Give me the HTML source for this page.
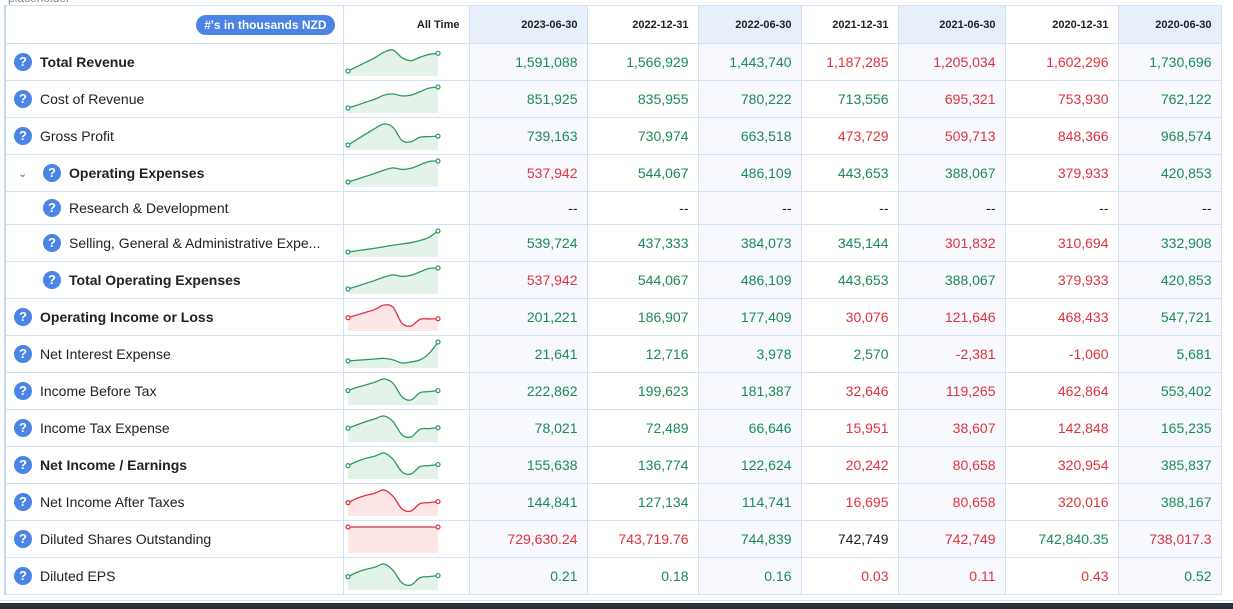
<!DOCTYPE html>
<html><head><meta charset="utf-8">
<style>
html,body{margin:0;padding:0;background:#fff;width:1233px;height:609px;overflow:hidden;font-family:"Liberation Sans",sans-serif;}
#ph{position:absolute;left:8px;top:-9px;font-size:12px;color:#888;}
table{position:absolute;left:4px;top:5px;border-collapse:collapse;table-layout:fixed;border-left:2px solid #c9d8f2;}
td{border:1px solid #d3e0f5;padding:0;font-size:14px;color:#222;white-space:nowrap;overflow:hidden;}
tr{height:37px;}
tr.h{height:38px;}
tr.s{height:33px;}
td.n{text-align:right;padding-right:9px;}
td.sh{background:#f7f9ff;}
tr.h td{font-size:11px;font-weight:bold;text-align:right;padding-right:9px;}
tr.h td.sh{background:#e7effb;}
.g{color:#1b8a57;} .r{color:#e0313c;}
.lab{display:flex;align-items:center;}
.q{width:18px;height:18px;border-radius:50%;background:#4a84e6;color:#fff;font-weight:bold;font-size:13px;text-align:center;line-height:18px;margin-left:8px;margin-right:8px;flex:none;}
.ind .q{margin-left:37px;}
.chev{position:absolute;margin-left:12px;color:#666;font-size:11px;}
.b{font-weight:bold;}
.pill{display:inline-block;background:#4a84e6;color:#fff;font-size:12px;font-weight:bold;border-radius:11px;padding:3px 8px;}
svg{display:block;}
#bar{position:absolute;left:0;top:603px;width:1233px;height:6px;background:#2b3138;}
#ln{position:absolute;left:0;top:600px;width:1233px;height:1px;background:#d3e0f5;}
</style></head><body>
<div id="ph">placeholder</div>
<table>
<colgroup><col style="width:338px"><col style="width:125px"><col style="width:118px"><col style="width:111px"><col style="width:103px"><col style="width:97px"><col style="width:107px"><col style="width:113px"><col style="width:103px"></colgroup>
<tr class="h"><td style="padding-right:8px"><span class="pill">#'s in thousands NZD</span></td><td>All Time</td><td class="sh">2023-06-30</td><td>2022-12-31</td><td class="sh">2022-06-30</td><td>2021-12-31</td><td class="sh">2021-06-30</td><td>2020-12-31</td><td class="sh">2020-06-30</td></tr>

<tr><td><div class="lab"><span class="q">?</span><span class="b">Total Revenue</span></div></td><td><svg class="sp" data-k="rev" data-c="g" width="125" height="36"></svg></td><td class="n sh g">1,591,088</td><td class="n g">1,566,929</td><td class="n sh g">1,443,740</td><td class="n r">1,187,285</td><td class="n sh r">1,205,034</td><td class="n r">1,602,296</td><td class="n sh g">1,730,696</td></tr>

<tr><td><div class="lab"><span class="q">?</span><span>Cost of Revenue</span></div></td><td><svg class="sp" data-k="cost" data-c="g" width="125" height="36"></svg></td><td class="n sh g">851,925</td><td class="n g">835,955</td><td class="n sh g">780,222</td><td class="n g">713,556</td><td class="n sh r">695,321</td><td class="n r">753,930</td><td class="n sh g">762,122</td></tr>

<tr><td><div class="lab"><span class="q">?</span><span>Gross Profit</span></div></td><td><svg class="sp" data-k="gross" data-c="g" width="125" height="36"></svg></td><td class="n sh g">739,163</td><td class="n g">730,974</td><td class="n sh g">663,518</td><td class="n r">473,729</td><td class="n sh r">509,713</td><td class="n r">848,366</td><td class="n sh g">968,574</td></tr>

<tr><td class="ind"><div class="lab"><span class="chev">&#8964;</span><span class="q">?</span><span class="b">Operating Expenses</span></div></td><td><svg class="sp" data-k="opex" data-c="g" width="125" height="36"></svg></td><td class="n sh r">537,942</td><td class="n g">544,067</td><td class="n sh g">486,109</td><td class="n g">443,653</td><td class="n sh g">388,067</td><td class="n r">379,933</td><td class="n sh g">420,853</td></tr>

<tr class="s"><td class="ind"><div class="lab"><span class="q">?</span><span>Research &amp; Development</span></div></td><td></td><td class="n sh">--</td><td class="n">--</td><td class="n sh">--</td><td class="n">--</td><td class="n sh">--</td><td class="n">--</td><td class="n sh">--</td></tr>

<tr><td class="ind"><div class="lab"><span class="q">?</span><span>Selling, General &amp; Administrative Expe...</span></div></td><td><svg class="sp" data-k="sga" data-c="g" width="125" height="36"></svg></td><td class="n sh g">539,724</td><td class="n g">437,333</td><td class="n sh g">384,073</td><td class="n g">345,144</td><td class="n sh r">301,832</td><td class="n r">310,694</td><td class="n sh g">332,908</td></tr>

<tr><td class="ind"><div class="lab"><span class="q">?</span><span class="b">Total Operating Expenses</span></div></td><td><svg class="sp" data-k="opex" data-c="g" width="125" height="36"></svg></td><td class="n sh r">537,942</td><td class="n g">544,067</td><td class="n sh g">486,109</td><td class="n g">443,653</td><td class="n sh g">388,067</td><td class="n r">379,933</td><td class="n sh g">420,853</td></tr>

<tr><td><div class="lab"><span class="q">?</span><span class="b">Operating Income or Loss</span></div></td><td><svg class="sp" data-k="opinc" data-c="r" width="125" height="36"></svg></td><td class="n sh g">201,221</td><td class="n g">186,907</td><td class="n sh g">177,409</td><td class="n r">30,076</td><td class="n sh r">121,646</td><td class="n r">468,433</td><td class="n sh g">547,721</td></tr>

<tr><td><div class="lab"><span class="q">?</span><span>Net Interest Expense</span></div></td><td><svg class="sp" data-k="netint" data-c="g" width="125" height="36"></svg></td><td class="n sh g">21,641</td><td class="n g">12,716</td><td class="n sh g">3,978</td><td class="n g">2,570</td><td class="n sh r">-2,381</td><td class="n r">-1,060</td><td class="n sh g">5,681</td></tr>

<tr><td><div class="lab"><span class="q">?</span><span>Income Before Tax</span></div></td><td><svg class="sp" data-k="ibt" data-c="g" width="125" height="36"></svg></td><td class="n sh g">222,862</td><td class="n g">199,623</td><td class="n sh g">181,387</td><td class="n r">32,646</td><td class="n sh r">119,265</td><td class="n r">462,864</td><td class="n sh g">553,402</td></tr>

<tr><td><div class="lab"><span class="q">?</span><span>Income Tax Expense</span></div></td><td><svg class="sp" data-k="itax" data-c="g" width="125" height="36"></svg></td><td class="n sh g">78,021</td><td class="n g">72,489</td><td class="n sh g">66,646</td><td class="n r">15,951</td><td class="n sh r">38,607</td><td class="n r">142,848</td><td class="n sh g">165,235</td></tr>

<tr><td><div class="lab"><span class="q">?</span><span class="b">Net Income / Earnings</span></div></td><td><svg class="sp" data-k="ni" data-c="g" width="125" height="36"></svg></td><td class="n sh g">155,638</td><td class="n g">136,774</td><td class="n sh g">122,624</td><td class="n r">20,242</td><td class="n sh r">80,658</td><td class="n r">320,954</td><td class="n sh g">385,837</td></tr>

<tr><td><div class="lab"><span class="q">?</span><span>Net Income After Taxes</span></div></td><td><svg class="sp" data-k="niat" data-c="r" width="125" height="36"></svg></td><td class="n sh g">144,841</td><td class="n g">127,134</td><td class="n sh g">114,741</td><td class="n r">16,695</td><td class="n sh r">80,658</td><td class="n r">320,016</td><td class="n sh g">388,167</td></tr>

<tr><td><div class="lab"><span class="q">?</span><span>Diluted Shares Outstanding</span></div></td><td><svg class="sp" data-k="shares" data-c="r" width="125" height="36"></svg></td><td class="n sh r">729,630.24</td><td class="n r">743,719.76</td><td class="n sh g">744,839</td><td class="n">742,749</td><td class="n sh r">742,749</td><td class="n g">742,840.35</td><td class="n sh r">738,017.3</td></tr>

<tr><td><div class="lab"><span class="q">?</span><span>Diluted EPS</span></div></td><td><svg class="sp" data-k="eps" data-c="g" width="125" height="36"></svg></td><td class="n sh g">0.21</td><td class="n g">0.18</td><td class="n sh g">0.16</td><td class="n r">0.03</td><td class="n sh r">0.11</td><td class="n r">0.43</td><td class="n sh g">0.52</td></tr>
</table>
<div id="ln"></div>
<div id="bar"></div>
<script>
const rev=[0,0.2,0.4,0.6,0.85,0.95,0.6,0.47,0.62,0.75,0.8];
const cost=[0,0.12,0.25,0.38,0.55,0.6,0.52,0.55,0.7,0.85,0.9];
const gross=[0,0.25,0.5,0.75,0.95,0.8,0.2,0.15,0.35,0.38,0.4];
const opex=[0,0.12,0.25,0.38,0.52,0.62,0.55,0.6,0.75,0.9,0.92];
const sga=[0,0.06,0.12,0.18,0.25,0.32,0.38,0.45,0.55,0.7,1];
const opinc=[0.38,0.5,0.62,0.75,0.95,0.85,0.12,0,0.3,0.32,0.33];
const netint=[0.1,0.13,0.16,0.19,0.22,0.15,0,0.05,0.15,0.45,1];
const ibt=[0.45,0.6,0.72,0.85,1,0.8,0.15,0,0.35,0.4,0.45];
const itax=[0.4,0.55,0.7,0.82,0.95,0.7,0.1,0,0.35,0.38,0.42];
const ni=[0.4,0.6,0.75,0.85,1,0.7,0.1,0,0.35,0.4,0.45];
const niat=[0.4,0.6,0.75,0.85,1,0.7,0.1,0,0.35,0.4,0.45];
const shares=[1,1,1,1,1,1,1,1,1,1,1];
const eps=[0.4,0.6,0.75,0.85,1,0.7,0.1,0,0.35,0.4,0.45];
const series={rev,cost,gross,opex,sga,opinc,netint,ibt,itax,ni,niat,shares,eps};
const NS="http://www.w3.org/2000/svg";
document.querySelectorAll('svg.sp').forEach(svg=>{
  const v=series[svg.dataset.k];
  const red=svg.dataset.c==='r';
  const col=red?'#e0313c':'#2a9a63', fill=red?'#fde6e6':'#e4f3ea';
  const mn=Math.min(...v), mx=Math.max(...v), rng=(mx-mn)||1;
  const X=i=>4+i*(90/(v.length-1));
  const Y=d=>mx===mn?6:27-(d-mn)/rng*21;
  const p=v.map((d,i)=>[X(i),Y(d)]);
  let d='M'+p[0][0]+','+p[0][1];
  for(let i=0;i<p.length-1;i++){
    const a=p[Math.max(0,i-1)],b=p[i],c=p[i+1],e=p[Math.min(p.length-1,i+2)];
    d+=` C${b[0]+(c[0]-a[0])/6},${b[1]+(c[1]-a[1])/6} ${c[0]-(e[0]-b[0])/6},${c[1]-(e[1]-b[1])/6} ${c[0]},${c[1]}`;
  }
  const area=document.createElementNS(NS,'path');
  
  
  area.setAttribute('d',d+` L${p[p.length-1][0]},32 L${p[0][0]},32 Z`);
  area.setAttribute('fill',fill);
  svg.appendChild(area);
  const ln=document.createElementNS(NS,'path');
  
  
  ln.setAttribute('d',d);ln.setAttribute('fill','none');ln.setAttribute('stroke',col);ln.setAttribute('stroke-width','1.3');
  svg.appendChild(ln);
  [p[0],p[p.length-1]].forEach(q=>{
    const c=document.createElementNS(NS,'circle');
    
    
    c.setAttribute('cx',q[0]);c.setAttribute('cy',q[1]);c.setAttribute('r','2');
    c.setAttribute('fill','#fff');c.setAttribute('stroke',col);c.setAttribute('stroke-width','1.2');
    svg.appendChild(c);
  });
});
</script>
</body></html>
